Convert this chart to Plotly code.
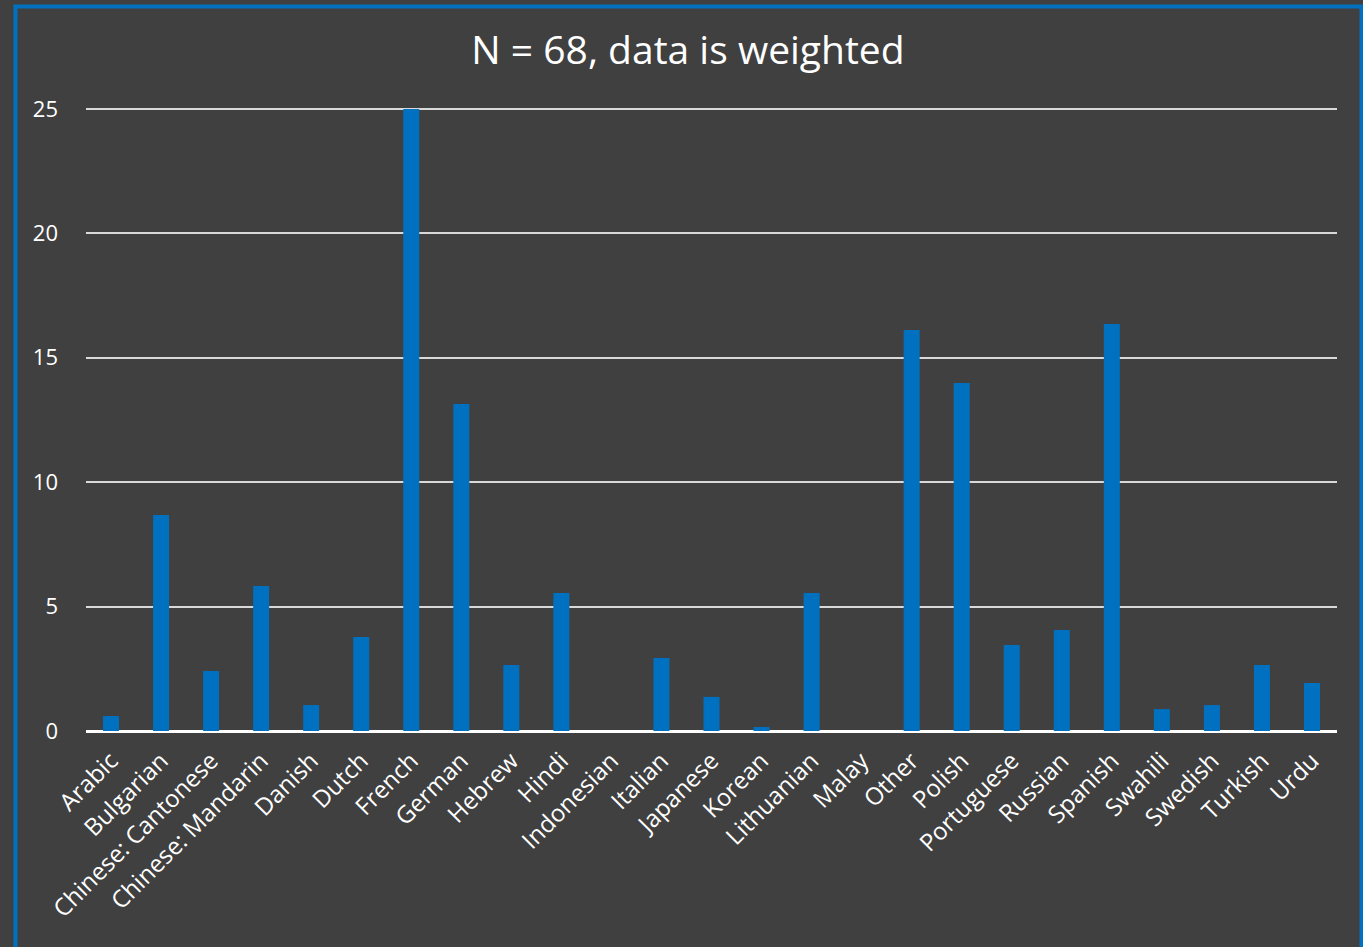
import plotly.graph_objects as go

languages = [
    "Arabic", "Bulgarian", "Chinese: Cantonese", "Chinese: Mandarin", "Danish",
    "Dutch", "French", "German", "Hebrew", "Hindi", "Indonesian", "Italian",
    "Japanese", "Korean", "Lithuanian", "Malay", "Other", "Polish",
    "Portuguese", "Russian", "Spanish", "Swahili", "Swedish", "Turkish", "Urdu",
]
weighted_counts = [
    0.60, 8.68, 2.41, 5.83, 1.04,
    3.78, 25.0, 13.14, 2.65, 5.55, 0.0, 2.93,
    1.37, 0.16, 5.55, 0.0, 16.12, 13.99,
    3.46, 4.06, 16.36, 0.88, 1.04, 2.65, 1.93,
]
y_ticks = [0, 5, 10, 15, 20, 25]

BG = "#404040"
BLUE = "#0070C0"
FONT = "Open Sans"

Y_TOP = 25.2          # a little headroom so the 25 gridline is drawn
PX_PER_UNIT = 24.88

W, H = 1363, 947
ML, MR, MB = 86, 26, 216
MT = round(109 - (Y_TOP - 25) * PX_PER_UNIT)
PW, PH = W - ML - MR, H - MT - MB

fig = go.Figure(
    go.Bar(
        x=languages,
        y=weighted_counts,
        marker=dict(color=BLUE, line=dict(width=0)),
        width=0.32,
    )
)

# frame around the whole chart, expressed in paper coordinates
def px_x(p):
    return (p - ML) / PW

def px_y(p):
    return (H - MB - p) / PH

fig.add_shape(
    type="rect", xref="paper", yref="paper",
    x0=px_x(15.5), x1=px_x(1361.5), y0=px_y(990), y1=px_y(6.5),
    line=dict(color=BLUE, width=4), fillcolor="rgba(0,0,0,0)", layer="below",
)

fig.update_layout(
    width=W, height=H,
    margin=dict(l=ML, r=MR, t=MT, b=MB),
    paper_bgcolor=BG, plot_bgcolor=BG,
    showlegend=False,
    title=dict(
        text="N = 68, data is weighted",
        x=(473 + 903) / 2 / W, xanchor="center",
        y=1 - 50 / H, yanchor="middle", yref="container",
        font=dict(family=FONT, size=39, color="white"),
    ),
    font=dict(family=FONT, color="white"),
)
fig.update_xaxes(
    range=[-0.5, len(languages) - 0.5],
    tickangle=-45,
    tickfont=dict(family=FONT, size=24, color="white"),
    showgrid=False, ticks="", showline=False, zeroline=False,
    ticklabelstandoff=10,
)
fig.update_yaxes(
    range=[0, Y_TOP],
    tickvals=y_ticks,
    tickfont=dict(family=FONT, size=22, color="white"),
    showgrid=True, gridcolor="#d9d9d9", gridwidth=2,
    zeroline=True, zerolinecolor="white", zerolinewidth=3,
    showline=False, ticks="",
    ticklabelstandoff=27,
)

fig.write_html("out.html")
